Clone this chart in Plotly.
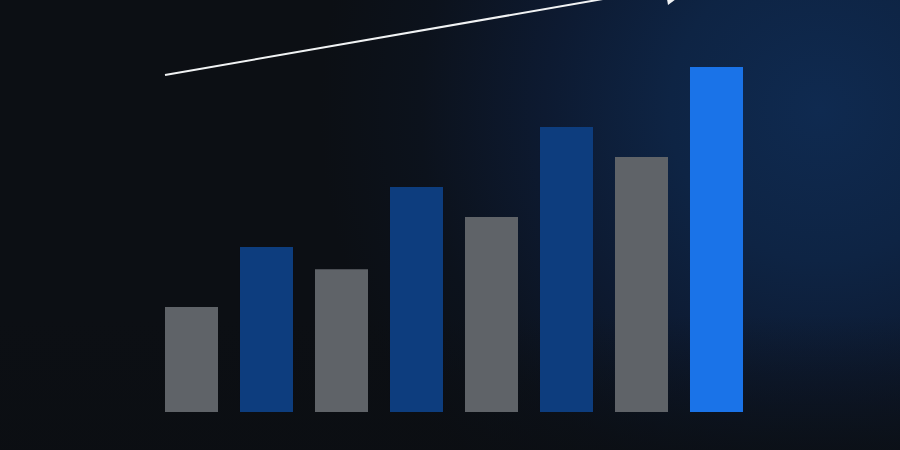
import base64
import math
import plotly.graph_objects as go

categories = ["P1", "P2", "P3", "P4", "P5", "P6", "P7", "P8"]
values = [35, 55, 47.6, 75, 65, 95, 85, 115]
bar_colors = ["#5f6368", "#0d3d7e", "#5f6368", "#0d3d7e",
              "#5f6368", "#0d3d7e", "#5f6368", "#1a73e8"]

W, H = 900, 450
ML, MR, MT, MB = 154, 146, 22, 38
PW, PH = W - ML - MR, H - MT - MB

svg = f'''<svg xmlns="http://www.w3.org/2000/svg" width="{W}" height="{H}" viewBox="0 0 {W} {H}">
<defs>
<radialGradient id="g" gradientUnits="userSpaceOnUse" cx="820" cy="110" r="500">
<stop offset="0" stop-color="#0f2a50"/>
<stop offset="0.3" stop-color="#0e2444"/>
<stop offset="0.55" stop-color="#0d1a31"/>
<stop offset="0.8" stop-color="#0c121c"/>
<stop offset="1" stop-color="#0c0f14"/>
</radialGradient>
<linearGradient id="b" x1="0" y1="0" x2="0" y2="1">
<stop offset="0.7" stop-color="#0b0e12" stop-opacity="0"/>
<stop offset="1" stop-color="#0b0e12" stop-opacity="0.7"/>
</linearGradient>
</defs>
<rect width="{W}" height="{H}" fill="#0c0f14"/>
<rect width="{W}" height="{H}" fill="url(#g)"/>
<rect width="{W}" height="{H}" fill="url(#b)"/>
</svg>'''
src = "data:image/svg+xml;base64," + base64.b64encode(svg.encode()).decode()

fig = go.Figure()
fig.add_trace(go.Bar(
    x=categories, y=values,
    marker=dict(color=bar_colors, line=dict(width=0)),
    hoverinfo="skip",
))

fig.add_layout_image(dict(
    source=src, xref="paper", yref="paper",
    x=-ML / PW, y=(PH + MT) / PH, sizex=W / PW, sizey=H / PH,
    xanchor="left", yanchor="top", sizing="stretch", layer="below",
))

# trend arrow (decorative), geometry in figure pixels -> paper coords
def px2paper(px, py):
    return (px - ML) / PW, (MT + PH - py) / PH

p0 = (165.0, 75.0)
tip = (698.6, -17.6)
dx, dy = tip[0] - p0[0], tip[1] - p0[1]
ln = math.hypot(dx, dy)
ux, uy = dx / ln, dy / ln
nx, ny = -uy, ux
head_len, head_hw = 34.0, 17.0
bx, by = tip[0] - head_len * ux, tip[1] - head_len * uy
c1 = (bx + head_hw * nx, by + head_hw * ny)
c2 = (bx - head_hw * nx, by - head_hw * ny)

a0 = px2paper(*p0)
a1 = px2paper(bx + 2 * ux, by + 2 * uy)
fig.add_shape(type="line", xref="paper", yref="paper",
              x0=a0[0], y0=a0[1], x1=a1[0], y1=a1[1],
              line=dict(color="#f1f3f4", width=2), layer="above")
pts = [px2paper(*tip), px2paper(*c1), px2paper(*c2)]
path = "M {} {} L {} {} L {} {} Z".format(*[v for p in pts for v in p])
fig.add_shape(type="path", xref="paper", yref="paper", path=path,
              fillcolor="#f1f3f4", line=dict(width=0), layer="above")

fig.update_layout(
    width=W, height=H,
    margin=dict(l=ML, r=MR, t=MT, b=MB, pad=0),
    paper_bgcolor="#0c0f14", plot_bgcolor="rgba(0,0,0,0)",
    bargap=0.293, showlegend=False,
    xaxis=dict(visible=False, range=[-0.5, 7.5]),
    yaxis=dict(visible=False, range=[0, 130]),
)

fig.write_html(
    "out.html",
    config={"displayModeBar": False, "staticPlot": True},
    post_script="document.body.style.margin='0';document.body.style.background='#0c0f14';",
)
